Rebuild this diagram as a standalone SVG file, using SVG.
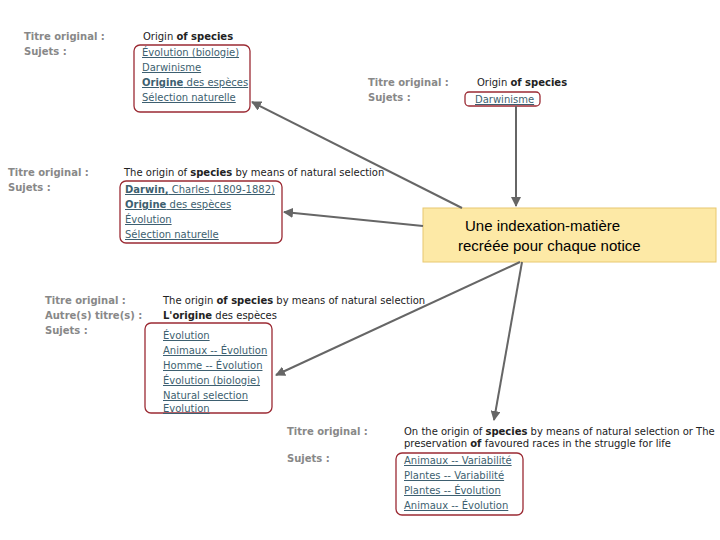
<svg xmlns="http://www.w3.org/2000/svg" width="720" height="540" viewBox="0 0 720 540">
<style>
text{font-family:Verdana,"DejaVu Sans",sans-serif;font-size:10px}
.l{fill:#888;font-weight:bold}
.v{fill:#222}
.k{fill:#3d5f70;text-decoration:underline}
.b{fill:none;stroke:#9b2a33;stroke-width:1.3}
.c{stroke:#666;stroke-width:2;fill:none;marker-end:url(#a)}
</style>
<defs><marker id="a" viewBox="0 0 10 10" refX="9" refY="5" markerWidth="5" markerHeight="5" orient="auto"><path d="M0 0L10 5L0 10z" fill="#666"/></marker></defs>
<rect width="720" height="540" fill="#fff"/>
<g id="n1">
<text class="l" x="24" y="40">Titre original :</text><text class="l" x="24" y="55">Sujets :</text>
<text class="v" x="143" y="40">Origin <tspan font-weight="bold">of species</tspan></text>
<rect class="b" x="134" y="45" width="116" height="67" rx="6"/>
<text class="k" x="142" y="56">Évolution (biologie)</text><text class="k" x="142" y="71">Darwinisme</text>
<text class="k" x="142" y="86"><tspan font-weight="bold">Origine</tspan> des espèces</text><text class="k" x="142" y="101">Sélection naturelle</text>
</g>
<g id="n2">
<text class="l" x="368" y="86">Titre original :</text><text class="l" x="368" y="101">Sujets :</text>
<text class="v" x="477" y="86">Origin <tspan font-weight="bold">of species</tspan></text>
<rect class="b" x="465" y="92" width="75" height="14" rx="4"/>
<text class="k" x="475" y="103">Darwinisme</text>
</g>
<g id="n3">
<text class="l" x="8" y="176">Titre original :</text><text class="l" x="8" y="191">Sujets :</text>
<text class="v" x="124" y="176">The origin of <tspan font-weight="bold">species</tspan> by means of natural selection</text>
<rect class="b" x="120" y="181" width="162" height="62" rx="6"/>
<text class="k" x="125" y="193"><tspan font-weight="bold">Darwin,</tspan> Charles (1809-1882)</text><text class="k" x="125" y="208"><tspan font-weight="bold">Origine</tspan> des espèces</text>
<text class="k" x="125" y="223">Évolution</text><text class="k" x="125" y="238">Sélection naturelle</text>
</g>
<g id="n4">
<rect x="423" y="208" width="293" height="54" fill="#fde9a6" stroke="#e8c870"/>
<text x="465" y="231" style="font-family:'Liberation Sans',Arial,sans-serif;font-size:15px">Une indexation-matière</text>
<text x="458" y="251" style="font-family:'Liberation Sans',Arial,sans-serif;font-size:15px">recréée pour chaque notice</text>
</g>
<g id="n5">
<text class="l" x="45" y="304">Titre original :</text><text class="l" x="45" y="319">Autre(s) titre(s) :</text><text class="l" x="45" y="334">Sujets :</text>
<text class="v" x="163" y="304">The origin <tspan font-weight="bold">of species</tspan> by means of natural selection</text>
<text class="v" x="163" y="319"><tspan font-weight="bold">L'origine</tspan> des espèces</text>
<rect class="b" x="145" y="323" width="127" height="90" rx="6"/>
<text class="k" x="163" y="339">Évolution</text><text class="k" x="163" y="354">Animaux -- Évolution</text><text class="k" x="163" y="369">Homme -- Évolution</text>
<text class="k" x="163" y="384">Évolution (biologie)</text><text class="k" x="163" y="399">Natural selection</text><text class="k" x="163" y="412">Evolution</text>
</g>
<g id="n6">
<text class="l" x="287" y="435">Titre original :</text><text class="l" x="287" y="462">Sujets :</text>
<text class="v" x="404" y="435">On the origin of <tspan font-weight="bold">species</tspan> by means of natural selection or The</text>
<text class="v" x="404" y="447">preservation <tspan font-weight="bold">of</tspan> favoured races in the struggle for life</text>
<rect class="b" x="396" y="453" width="127" height="62" rx="6"/>
<text class="k" x="404" y="464">Animaux -- Variabilité</text><text class="k" x="404" y="479">Plantes -- Variabilité</text>
<text class="k" x="404" y="494">Plantes -- Évolution</text><text class="k" x="404" y="509">Animaux -- Évolution</text>
</g>
<g id="connectors">
<path class="c" d="M462 208L252 102"/>
<path class="c" d="M423 226L284 212"/>
<path class="c" d="M520 262L276 375"/>
<path class="c" d="M522 262L494 420"/>
<path class="c" d="M516 106L516 206"/>
</g>
</svg>
